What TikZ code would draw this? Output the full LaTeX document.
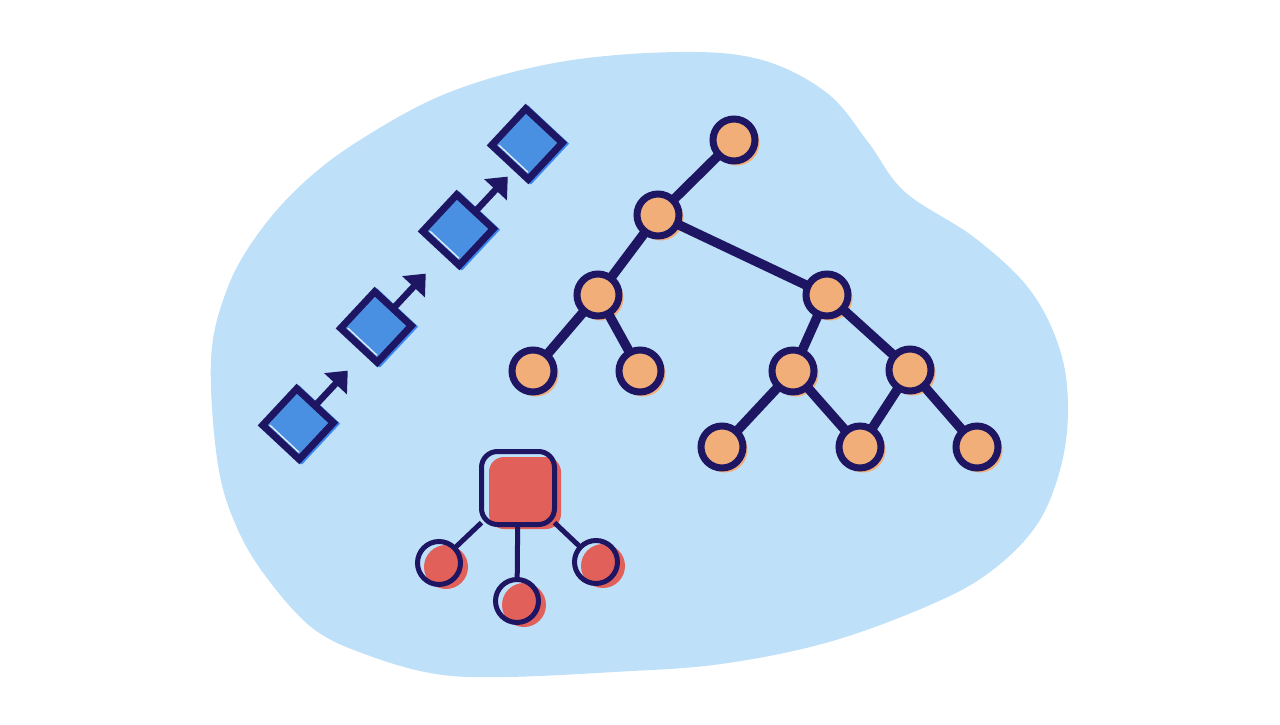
\documentclass[tikz,border=0pt]{standalone}
\usetikzlibrary{arrows.meta,calc}
\definecolor{blob}{RGB}{190,224,249}
\definecolor{navy}{RGB}{30,22,98}
\definecolor{orng}{RGB}{242,174,120}
\definecolor{sqblue}{RGB}{74,144,226}
\definecolor{sqshade}{RGB}{58,134,242}
\definecolor{redf}{RGB}{226,96,90}
\pgfdeclarelayer{back}
\pgfdeclarelayer{mid}
\pgfsetlayers{back,mid,main}
\begin{document}
\begin{tikzpicture}[x=1pt,y=-1pt,
  tnode/.style={circle,draw=navy,fill=orng,line width=7pt,minimum size=42pt,inner sep=0pt,outer sep=0pt},
  tshade/.style={circle,fill=orng,minimum size=45pt,inner sep=0pt,outer sep=0pt},
  tedge/.style={draw=navy,line width=9.5pt},
  sqnode/.style={rectangle,draw=navy,fill=sqblue,line width=7pt,minimum size=50pt,inner sep=0pt,outer sep=0pt,rotate=47},
  sqshadow/.style={rectangle,fill=sqshade,minimum size=56pt,inner sep=0pt,outer sep=0pt,rotate=47},
  sqlight/.style={draw=white!85!sqblue,line width=1.3pt,shorten <=5pt,shorten >=5pt},
  sqarrow/.style={draw=navy,line width=6.5pt,-{Triangle[length=18pt 0 0,width=30pt 0 0]}},
  rmain/.style={rectangle,rounded corners=16pt,draw=navy,line width=5pt,minimum size=73pt,inner sep=0pt,outer sep=0pt},
  rmainfill/.style={rectangle,rounded corners=15pt,fill=redf,minimum size=72pt,inner sep=0pt,outer sep=0pt},
  rleaf/.style={circle,draw=navy,line width=5pt,minimum size=43pt,inner sep=0pt,outer sep=0pt},
  rleaffill/.style={circle,fill=redf,minimum size=44pt,inner sep=0pt,outer sep=0pt},
  redge/.style={draw=navy,line width=5pt}]
\useasboundingbox (0,0) rectangle (1280,725);

% ---------- blob ----------
\begin{pgfonlayer}{back}
\fill[blob] plot[smooth cycle,tension=0.6] coordinates {
 (211,360) (226,292) (255,238) (300,186) (360,140) (450,92) (560,62) (680,52)
 (762,60) (827,93) (868,142) (905,192) (975,238) (1030,290) (1060,350)
 (1068,410) (1060,470) (1036,526) (990,572) (930,605) (829,642) (721,664)
 (614,672) (505,677) (436,674) (370,656) (315,630) (270,582) (238,530)
 (218,465)};
\end{pgfonlayer}

% ---------- squares ----------
\node[sqnode] (s1) at (298,424) {};
\node[sqnode] (s2) at (376,327) {};
\node[sqnode] (s3) at (458,230) {};
\node[sqnode] (s4) at (527,144) {};
\coordinate (t1) at ($(s1.east)+(-47:48)$);
\coordinate (t2) at ($(s2.east)+(-47:48)$);
\coordinate (t3) at ($(s3.east)+(-47:48)$);
\begin{pgfonlayer}{mid}
\foreach \s in {s1,s2,s3,s4}{
  \node[sqshadow] (\s sh) at ($(\s)+(2.5,1)$) {};
}
\end{pgfonlayer}
\foreach \s in {s1,s2,s3,s4}{
  \draw[sqlight] ($(\s.north west)!5pt!(\s.north east)$) -- ($(\s.south west)!5pt!(\s.south east)$);
}
\draw[sqarrow] (s1.east) -- (t1);
\draw[sqarrow] (s2.east) -- (t2);
\draw[sqarrow] (s3.east) -- (t3);

% ---------- tree ----------
\node[tnode] (A) at (734,140) {};
\node[tnode] (B) at (658,215) {};
\node[tnode] (C) at (598,295) {};
\node[tnode] (D) at (533,371) {};
\node[tnode] (E) at (640,371) {};
\node[tnode] (F) at (827,295) {};
\node[tnode] (G) at (793,371) {};
\node[tnode] (H) at (910,370) {};
\node[tnode] (I) at (722,447) {};
\node[tnode] (J) at (860,447) {};
\node[tnode] (K) at (977,447) {};
\begin{pgfonlayer}{mid}
\foreach \n in {A,B,C,D,E,F,G,H,I,J,K}{
  \node[tshade] (\n sh) at ($(\n)+(3,3)$) {};
}
\draw[tedge] (A) -- (B);
\draw[tedge] (B) -- (C);
\draw[tedge] (B) -- (F);
\draw[tedge] (C) -- (D);
\draw[tedge] (C) -- (E);
\draw[tedge] (F) -- (G);
\draw[tedge] (F) -- (H);
\draw[tedge] (G) -- (I);
\draw[tedge] (G) -- (J);
\draw[tedge] (H) -- (J);
\draw[tedge] (H) -- (K);
\end{pgfonlayer}

% ---------- red group ----------
\node[rmain] (m) at (518,488) {};
\node[rleaf] (r1) at (439,563) {};
\node[rleaf] (r2) at (517,601) {};
\node[rleaf] (r3) at (596,562) {};
\begin{pgfonlayer}{mid}
\node[rmainfill] (mf) at ($(m)+(7,5)$) {};
\node[rleaffill] (r1f) at ($(r1)+(7,4)$) {};
\node[rleaffill] (r2f) at ($(r2)+(7,4)$) {};
\node[rleaffill] (r3f) at ($(r3)+(7,4)$) {};
\end{pgfonlayer}
\draw[redge] (m) -- (r1);
\draw[redge] (m) -- (r2);
\draw[redge] (m) -- (r3);
\end{tikzpicture}
\end{document}
